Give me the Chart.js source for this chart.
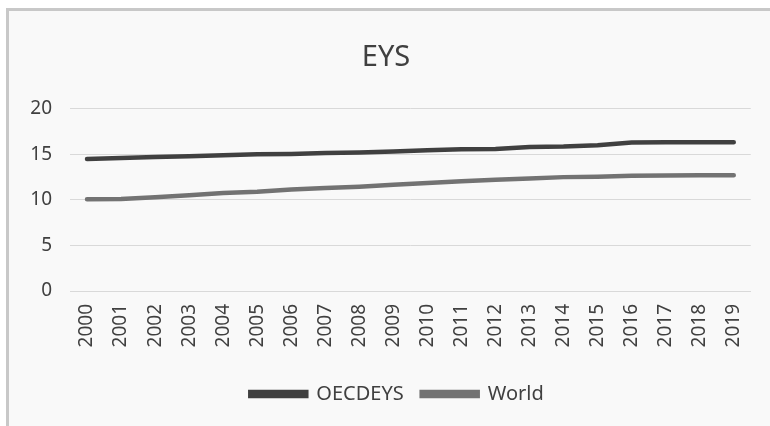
<!DOCTYPE html>
<html>
<head>
<meta charset="utf-8">
<script src="https://cdn.jsdelivr.net/npm/chart.js@4/dist/chart.umd.min.js"></script>
<style>
html,body{margin:0;padding:0;background:#ffffff;}
#wrap{width:770px;height:426px;position:relative;}
</style>
</head>
<body>
<div id="wrap"><canvas id="c" width="770" height="426"></canvas></div>
<script>
const years = ["2000","2001","2002","2003","2004","2005","2006","2007","2008","2009","2010","2011","2012","2013","2014","2015","2016","2017","2018","2019"];
const oecdEYS = [14.5,14.6,14.7,14.8,14.9,15.0,15.05,15.15,15.2,15.3,15.45,15.55,15.6,15.8,15.85,16.0,16.3,16.32,16.33,16.33];
const world = [10.07,10.1,10.3,10.5,10.75,10.9,11.15,11.3,11.45,11.65,11.85,12.05,12.2,12.35,12.5,12.55,12.65,12.68,12.7,12.7];
const yTicks = [0,5,10,15,20];

const FONT = "'Noto Sans', 'Open Sans', sans-serif";

const framePlugin = {
  id: 'frame',
  afterLayout(chart) {
    if (chart.legend) { chart.legend.left += 11; chart.legend.right += 11; }
  },
  beforeDraw(chart) {
    const ctx = chart.ctx;
    ctx.save();
    ctx.fillStyle = '#ffffff';
    ctx.fillRect(0, 0, chart.width, chart.height);
    ctx.fillStyle = '#c8c8c8';
    ctx.fillRect(6, 8, chart.width, chart.height);
    ctx.fillStyle = '#f9f9f9';
    ctx.fillRect(9, 11, chart.width, chart.height);
    ctx.restore();
  }
};

new Chart(document.getElementById('c'), {
  type: 'line',
  data: {
    labels: years,
    datasets: [
      {label: 'OECDEYS', data: oecdEYS, borderColor: '#404040', backgroundColor: '#404040', borderWidth: 4.5, pointRadius: 0, tension: 0, borderCapStyle: 'round'},
      {label: 'World', data: world, borderColor: '#737373', backgroundColor: '#737373', borderWidth: 4.5, pointRadius: 0, tension: 0, borderCapStyle: 'round'}
    ]
  },
  options: {
    responsive: false,
    animation: false,
    layout: {padding: {left: 20, right: 18, top: 10, bottom: 12}},
    plugins: {
      title: {
        display: true, text: 'EYS', color: '#404040',
        font: {family: FONT, size: 29, weight: 'normal'},
        padding: {top: 30, bottom: 34}
      },
      legend: {
        display: true, position: 'bottom',
        labels: {
          color: '#404040', font: {family: FONT, size: 20},
          boxWidth: 56, boxHeight: 4, padding: 18
        }
      },
      tooltip: {enabled: false}
    },
    scales: {
      x: {
        offset: true,
        afterFit(scale) { scale.height = 75; },
        grid: {display: false, drawTicks: false},
        border: {display: true, color: '#d9d9d9'},
        ticks: {color: '#404040', font: {family: FONT, size: 19}, maxRotation: 90, minRotation: 90, padding: 13, autoSkip: false}
      },
      y: {
        min: 0, max: 20,
        afterBuildTicks(scale) { scale.ticks = yTicks.map(v => ({value: v})); },
        afterFit(scale) { scale.width = 50; },
        grid: {color: '#d9d9d9', drawTicks: false, lineWidth: 1},
        border: {display: false},
        ticks: {color: '#404040', font: {family: FONT, size: 19}, padding: 18}
      }
    }
  },
  plugins: [framePlugin]
});
</script>
</body>
</html>
